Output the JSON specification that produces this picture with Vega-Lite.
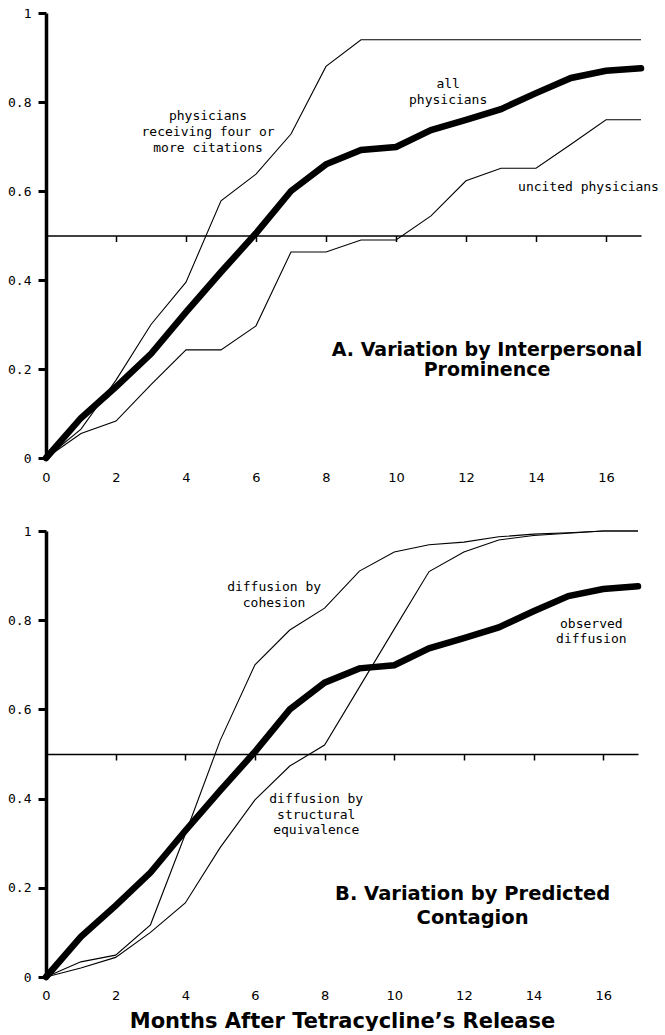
{
  "$schema": "https://vega.github.io/schema/vega-lite/v6.json",
  "padding": {"left": 7, "top": 7, "right": 0, "bottom": 0},
  "spacing": 40,
  "background": "white",
  "config": {
    "view": {"stroke": null},
    "axis": {"grid": false, "domainColor": "black", "tickColor": "black", "labelColor": "black", "titleColor": "black"}
  },
  "datasets": {
    "curves": [
      {"series": "all physicians", "month": 0, "share": 0},
      {"series": "all physicians", "month": 1, "share": 0.09},
      {"series": "all physicians", "month": 2, "share": 0.16},
      {"series": "all physicians", "month": 3, "share": 0.234},
      {"series": "all physicians", "month": 4, "share": 0.328},
      {"series": "all physicians", "month": 5, "share": 0.418},
      {"series": "all physicians", "month": 6, "share": 0.505},
      {"series": "all physicians", "month": 7, "share": 0.6},
      {"series": "all physicians", "month": 8, "share": 0.66},
      {"series": "all physicians", "month": 9, "share": 0.692},
      {"series": "all physicians", "month": 10, "share": 0.699},
      {"series": "all physicians", "month": 11, "share": 0.737},
      {"series": "all physicians", "month": 12, "share": 0.76},
      {"series": "all physicians", "month": 13, "share": 0.784},
      {"series": "all physicians", "month": 14, "share": 0.82},
      {"series": "all physicians", "month": 15, "share": 0.854},
      {"series": "all physicians", "month": 16, "share": 0.87},
      {"series": "all physicians", "month": 17, "share": 0.876},
      {"series": "physicians receiving four or more citations", "month": 0, "share": 0},
      {"series": "physicians receiving four or more citations", "month": 1, "share": 0.065},
      {"series": "physicians receiving four or more citations", "month": 2, "share": 0.175},
      {"series": "physicians receiving four or more citations", "month": 3, "share": 0.3},
      {"series": "physicians receiving four or more citations", "month": 4, "share": 0.395},
      {"series": "physicians receiving four or more citations", "month": 5, "share": 0.578},
      {"series": "physicians receiving four or more citations", "month": 6, "share": 0.638},
      {"series": "physicians receiving four or more citations", "month": 7, "share": 0.728},
      {"series": "physicians receiving four or more citations", "month": 8, "share": 0.88},
      {"series": "physicians receiving four or more citations", "month": 9, "share": 0.94},
      {"series": "physicians receiving four or more citations", "month": 10, "share": 0.94},
      {"series": "physicians receiving four or more citations", "month": 11, "share": 0.94},
      {"series": "physicians receiving four or more citations", "month": 12, "share": 0.94},
      {"series": "physicians receiving four or more citations", "month": 13, "share": 0.94},
      {"series": "physicians receiving four or more citations", "month": 14, "share": 0.94},
      {"series": "physicians receiving four or more citations", "month": 15, "share": 0.94},
      {"series": "physicians receiving four or more citations", "month": 16, "share": 0.94},
      {"series": "physicians receiving four or more citations", "month": 17, "share": 0.94},
      {"series": "uncited physicians", "month": 0, "share": 0},
      {"series": "uncited physicians", "month": 1, "share": 0.055},
      {"series": "uncited physicians", "month": 2, "share": 0.083},
      {"series": "uncited physicians", "month": 3, "share": 0.165},
      {"series": "uncited physicians", "month": 4, "share": 0.243},
      {"series": "uncited physicians", "month": 5, "share": 0.243},
      {"series": "uncited physicians", "month": 6, "share": 0.297},
      {"series": "uncited physicians", "month": 7, "share": 0.463},
      {"series": "uncited physicians", "month": 8, "share": 0.463},
      {"series": "uncited physicians", "month": 9, "share": 0.49},
      {"series": "uncited physicians", "month": 10, "share": 0.49},
      {"series": "uncited physicians", "month": 11, "share": 0.544},
      {"series": "uncited physicians", "month": 12, "share": 0.623},
      {"series": "uncited physicians", "month": 13, "share": 0.651},
      {"series": "uncited physicians", "month": 14, "share": 0.651},
      {"series": "uncited physicians", "month": 15, "share": 0.705},
      {"series": "uncited physicians", "month": 16, "share": 0.76},
      {"series": "uncited physicians", "month": 17, "share": 0.76},
      {"series": "diffusion by cohesion", "month": 0, "share": 0},
      {"series": "diffusion by cohesion", "month": 1, "share": 0.034},
      {"series": "diffusion by cohesion", "month": 2, "share": 0.049},
      {"series": "diffusion by cohesion", "month": 3, "share": 0.117},
      {"series": "diffusion by cohesion", "month": 4, "share": 0.32},
      {"series": "diffusion by cohesion", "month": 5, "share": 0.53},
      {"series": "diffusion by cohesion", "month": 6, "share": 0.7},
      {"series": "diffusion by cohesion", "month": 7, "share": 0.778},
      {"series": "diffusion by cohesion", "month": 8, "share": 0.827},
      {"series": "diffusion by cohesion", "month": 9, "share": 0.91},
      {"series": "diffusion by cohesion", "month": 10, "share": 0.953},
      {"series": "diffusion by cohesion", "month": 11, "share": 0.969},
      {"series": "diffusion by cohesion", "month": 12, "share": 0.975},
      {"series": "diffusion by cohesion", "month": 13, "share": 0.987},
      {"series": "diffusion by cohesion", "month": 14, "share": 0.993},
      {"series": "diffusion by cohesion", "month": 15, "share": 0.996},
      {"series": "diffusion by cohesion", "month": 16, "share": 1.0},
      {"series": "diffusion by cohesion", "month": 17, "share": 1.0},
      {"series": "diffusion by structural equivalence", "month": 0, "share": 0},
      {"series": "diffusion by structural equivalence", "month": 1, "share": 0.02},
      {"series": "diffusion by structural equivalence", "month": 2, "share": 0.044},
      {"series": "diffusion by structural equivalence", "month": 3, "share": 0.1},
      {"series": "diffusion by structural equivalence", "month": 4, "share": 0.166},
      {"series": "diffusion by structural equivalence", "month": 5, "share": 0.29},
      {"series": "diffusion by structural equivalence", "month": 6, "share": 0.397},
      {"series": "diffusion by structural equivalence", "month": 7, "share": 0.473},
      {"series": "diffusion by structural equivalence", "month": 8, "share": 0.52},
      {"series": "diffusion by structural equivalence", "month": 9, "share": 0.65},
      {"series": "diffusion by structural equivalence", "month": 10, "share": 0.78},
      {"series": "diffusion by structural equivalence", "month": 11, "share": 0.909},
      {"series": "diffusion by structural equivalence", "month": 12, "share": 0.953},
      {"series": "diffusion by structural equivalence", "month": 13, "share": 0.98},
      {"series": "diffusion by structural equivalence", "month": 14, "share": 0.99},
      {"series": "diffusion by structural equivalence", "month": 15, "share": 0.995},
      {"series": "diffusion by structural equivalence", "month": 16, "share": 1.0},
      {"series": "diffusion by structural equivalence", "month": 17, "share": 1.0}
    ]
  },
  "vconcat": [
    {
      "width": 595,
      "height": 445,
      "layer": [
        {
          "data": {"name": "curves"},
          "transform": [{"filter": {"field": "series", "oneOf": ["physicians receiving four or more citations", "uncited physicians"]}}],
          "mark": {"type": "line", "color": "black", "strokeWidth": 1.1},
          "encoding": {
            "x": {"field": "month", "type": "quantitative", "scale": {"domain": [0, 17], "nice": false},
              "axis": {"values": [0,1,2,3,4,5,6,7,8,9,10,11,12,13,14,15,16,17], "labelExpr": "datum.value % 2 == 0 ? datum.label : ''", "offset": -222.5, "domainWidth": 1.5, "tickSize": 6, "tickWidth": 1.5, "labelPadding": 230, "labelFont": "DejaVu Sans", "labelFontSize": 13, "labelFlush": false, "labelOverlap": false, "title": null}},
            "y": {"field": "share", "type": "quantitative", "scale": {"domain": [0, 1], "nice": false},
              "axis": {"values": [0, 0.2, 0.4, 0.6, 0.8, 1], "format": "~g", "domainWidth": 3.5, "tickSize": 8, "tickWidth": 3, "labelPadding": 7, "labelFont": "DejaVu Sans Mono", "labelFontSize": 13, "title": null}},
            "detail": {"field": "series"}
          }
        },
        {
          "data": {"name": "curves"},
          "transform": [{"filter": "datum.series == 'all physicians'"}],
          "mark": {"type": "line", "color": "black", "strokeWidth": 6.5, "strokeCap": "round"},
          "encoding": {"x": {"field": "month", "type": "quantitative"}, "y": {"field": "share", "type": "quantitative"}}
        },
        {
          "data": {"values": [{}]},
          "mark": {"type": "text", "text": ["physicians", "receiving four or", "more citations"], "font": "DejaVu Sans Mono", "fontSize": 13, "lineHeight": 16, "align": "center", "baseline": "middle", "color": "black"},
          "encoding": {"x": {"datum": 4.63}, "y": {"datum": 0.769}}
        },
        {
          "data": {"values": [{}]},
          "mark": {"type": "text", "text": ["all", "physicians"], "font": "DejaVu Sans Mono", "fontSize": 13, "lineHeight": 16, "align": "center", "baseline": "middle", "color": "black"},
          "encoding": {"x": {"datum": 11.49}, "y": {"datum": 0.84}}
        },
        {
          "data": {"values": [{}]},
          "mark": {"type": "text", "text": "uncited physicians", "font": "DejaVu Sans Mono", "fontSize": 13, "align": "center", "baseline": "middle", "color": "black"},
          "encoding": {"x": {"datum": 15.5}, "y": {"datum": 0.609}}
        },
        {
          "data": {"values": [{}]},
          "mark": {"type": "text", "text": ["A. Variation by Interpersonal", "Prominence"], "font": "DejaVu Sans", "fontWeight": "bold", "fontSize": 19, "lineHeight": 20, "align": "center", "baseline": "middle", "color": "black"},
          "encoding": {"x": {"datum": 12.6}, "y": {"datum": 0.243}}
        }
      ]
    },
    {
      "width": 592,
      "height": 446,
      "layer": [
        {
          "data": {"name": "curves"},
          "transform": [{"filter": {"field": "series", "oneOf": ["diffusion by cohesion", "diffusion by structural equivalence"]}}],
          "mark": {"type": "line", "color": "black", "strokeWidth": 1.1},
          "encoding": {
            "x": {"field": "month", "type": "quantitative", "scale": {"domain": [0, 17], "nice": false},
              "axis": {"values": [0,1,2,3,4,5,6,7,8,9,10,11,12,13,14,15,16,17], "labelExpr": "datum.value % 2 == 0 ? datum.label : ''", "offset": -223, "domainWidth": 1.5, "tickSize": 6, "tickWidth": 1.5, "labelPadding": 229, "labelFont": "DejaVu Sans", "labelFontSize": 13, "labelFlush": false, "labelOverlap": false,
                "title": "Months After Tetracycline’s Release", "titleFont": "DejaVu Sans", "titleFontWeight": "bold", "titleFontSize": 21, "titleBaseline": "alphabetic", "titleY": 273}},
            "y": {"field": "share", "type": "quantitative", "scale": {"domain": [0, 1], "nice": false},
              "axis": {"values": [0, 0.2, 0.4, 0.6, 0.8, 1], "format": "~g", "domainWidth": 3.5, "tickSize": 8, "tickWidth": 3, "labelPadding": 7, "labelFont": "DejaVu Sans Mono", "labelFontSize": 13, "title": null}},
            "detail": {"field": "series"}
          }
        },
        {
          "data": {"name": "curves"},
          "transform": [{"filter": "datum.series == 'all physicians'"}],
          "mark": {"type": "line", "color": "black", "strokeWidth": 6.5, "strokeCap": "round"},
          "encoding": {"x": {"field": "month", "type": "quantitative"}, "y": {"field": "share", "type": "quantitative"}}
        },
        {
          "data": {"values": [{}]},
          "mark": {"type": "text", "text": ["diffusion by", "cohesion"], "font": "DejaVu Sans Mono", "fontSize": 13, "lineHeight": 16, "align": "center", "baseline": "middle", "color": "black"},
          "encoding": {"x": {"datum": 6.55}, "y": {"datum": 0.874}}
        },
        {
          "data": {"values": [{}]},
          "mark": {"type": "text", "text": ["observed", "diffusion"], "font": "DejaVu Sans Mono", "fontSize": 13, "lineHeight": 15, "align": "center", "baseline": "middle", "color": "black"},
          "encoding": {"x": {"datum": 15.66}, "y": {"datum": 0.791}}
        },
        {
          "data": {"values": [{}]},
          "mark": {"type": "text", "text": ["diffusion by", "structural", "equivalence"], "font": "DejaVu Sans Mono", "fontSize": 13, "lineHeight": 15.5, "align": "center", "baseline": "middle", "color": "black"},
          "encoding": {"x": {"datum": 7.76}, "y": {"datum": 0.399}}
        },
        {
          "data": {"values": [{}]},
          "mark": {"type": "text", "text": ["B. Variation by Predicted", "Contagion"], "font": "DejaVu Sans", "fontWeight": "bold", "fontSize": 19.5, "lineHeight": 24, "align": "center", "baseline": "middle", "color": "black"},
          "encoding": {"x": {"datum": 12.25}, "y": {"datum": 0.186}}
        }
      ]
    }
  ]
}
